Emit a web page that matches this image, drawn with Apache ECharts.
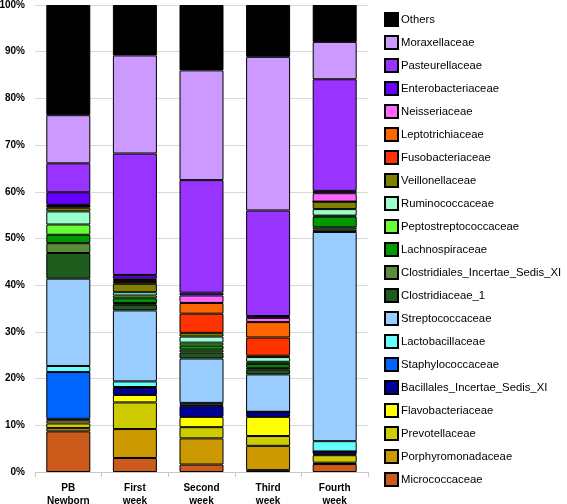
<!DOCTYPE html>
<html>
<head>
<meta charset="utf-8">
<script src="https://cdn.jsdelivr.net/npm/echarts@6/dist/echarts.min.js"></script>
<style>html,body{margin:0;padding:0;background:#fff}#c{width:567px;height:504px}</style>
</head>
<body>
<div id="c"></div>
<script>
var categories = ['PB\nNewborn', 'First\nweek', 'Second\nweek', 'Third\nweek', 'Fourth\nweek'];
var yTicks = [0, 10, 20, 30, 40, 50, 60, 70, 80, 90, 100];

var micrococcaceae = [8.7, 3.0, 1.6, 0.4, 1.7];
var porphyromonadaceae = [0.7, 6.2, 5.6, 5.2, 0.3];
var prevotellaceae = [1.0, 5.7, 2.4, 2.1, 1.6];
var flavobacteriaceae = [0.6, 1.6, 2.2, 4.1, 0.2];
var bacillales = [0.4, 1.5, 2.3, 1.1, 0.6];
var staphylococcaceae = [10.0, 0.2, 0.3, 0, 0];
var lactobacillaceae = [1.3, 1.2, 0.4, 0, 2.2];
var streptococcaceae = [18.7, 15.2, 9.5, 8.0, 44.8];
var clostridiaceae1 = [5.5, 1.2, 1.3, 1.0, 0.5];
var clostridialesIS = [2.1, 0.4, 0.6, 0.4, 0.5];
var lachnospiraceae = [1.8, 1.0, 0.9, 0.8, 2.3];
var peptostreptococcaceae = [2.2, 0.6, 0.6, 0.5, 0.2];
var ruminococcaceae = [2.8, 0.7, 1.3, 1.0, 1.4];
var veillonellaceae = [0.8, 1.8, 0.8, 0.3, 1.6];
var fusobacteriaceae = [0.3, 0.4, 4.1, 3.9, 0];
var leptotrichiaceae = [0, 0.4, 2.3, 3.3, 0];
var neisseriaceae = [0.3, 0.3, 1.6, 0.9, 1.8];
var enterobacteriaceae = [2.7, 0.8, 0.6, 0.4, 0.5];
var pasteurellaceae = [6.2, 26.0, 24.1, 22.6, 23.9];
var moraxellaceae = [10.3, 21.0, 23.5, 32.9, 8.0];
var others = [23.6, 10.8, 14.0, 11.1, 7.9];

var seriesDefs = [
  ['Micrococcaceae', micrococcaceae, '#cc5a1a'],
  ['Porphyromonadaceae', porphyromonadaceae, '#cc9900'],
  ['Prevotellaceae', prevotellaceae, '#cccc00'],
  ['Flavobacteriaceae', flavobacteriaceae, '#ffff00'],
  ['Bacillales_Incertae_Sedis_XI', bacillales, '#000099'],
  ['Staphylococcaceae', staphylococcaceae, '#0066ff'],
  ['Lactobacillaceae', lactobacillaceae, '#66ffff'],
  ['Streptococcaceae', streptococcaceae, '#99ccff'],
  ['Clostridiaceae_1', clostridiaceae1, '#1e5c1e'],
  ['Clostridiales_Incertae_Sedis_XI', clostridialesIS, '#5b8c3a'],
  ['Lachnospiraceae', lachnospiraceae, '#009900'],
  ['Peptostreptococcaceae', peptostreptococcaceae, '#66ff33'],
  ['Ruminococcaceae', ruminococcaceae, '#99ffcc'],
  ['Veillonellaceae', veillonellaceae, '#808000'],
  ['Fusobacteriaceae', fusobacteriaceae, '#ff3300'],
  ['Leptotrichiaceae', leptotrichiaceae, '#ff6600'],
  ['Neisseriaceae', neisseriaceae, '#ff66ff'],
  ['Enterobacteriaceae', enterobacteriaceae, '#6600ff'],
  ['Pasteurellaceae', pasteurellaceae, '#9933ff'],
  ['Moraxellaceae', moraxellaceae, '#cc99ff'],
  ['Others', others, '#000000']
];

var chart = echarts.init(document.getElementById('c'), null, {renderer: 'canvas'});
var series = seriesDefs.map(function (d) {
  return {
    name: d[0], type: 'bar', stack: 'total', data: d[1],
    barWidth: 44,
    itemStyle: {color: d[2], borderColor: '#000', borderWidth: 1},
    animation: false
  };
});
var legendData = seriesDefs.map(function (d) { return d[0]; }).reverse();

chart.setOption({
  animation: false,
  grid: {left: 35, right: 199, top: 5, bottom: 32, containLabel: false, outerBoundsMode: 'none'},
  legend: {
    orient: 'vertical', left: 384, top: 12, padding: 0,
    itemWidth: 13, itemHeight: 13, itemGap: 8,
    data: legendData,
    textStyle: {fontFamily: 'Liberation Sans, Arial, sans-serif', fontSize: 11.3, color: '#000', padding: [0, 0, 0, -2], lineHeight: 13},
    icon: 'rect'
  },
  xAxis: {
    type: 'category', data: categories,
    axisLine: {lineStyle: {color: '#c8c8c8', width: 1}},
    axisTick: {show: true, length: 5, lineStyle: {color: '#c8c8c8'}},
    axisLabel: {fontFamily: 'Liberation Sans, Arial, sans-serif', fontWeight: 'bold', fontSize: 10, color: '#000', lineHeight: 13.5, margin: 9}
  },
  yAxis: {
    type: 'value', min: yTicks[0], max: yTicks[yTicks.length - 1], interval: 10,
    axisLine: {show: false},
    axisTick: {show: false},
    splitLine: {lineStyle: {color: '#d9d9d9', width: 1}},
    axisLabel: {formatter: '{value}%', fontFamily: 'Liberation Sans, Arial, sans-serif', fontWeight: 'bold', fontSize: 10, color: '#000', margin: 10}
  },
  series: series
});
</script>
</body>
</html>
